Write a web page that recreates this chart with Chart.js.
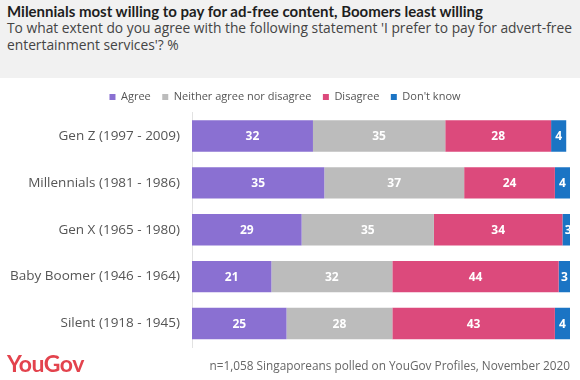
<!DOCTYPE html>
<html>
<head>
<meta charset="utf-8">
<script src="https://cdn.jsdelivr.net/npm/chart.js@4"></script>
<style>
  body { margin: 0; width: 580px; height: 380px; background: #fff; font-family: "Open Sans", sans-serif; overflow: hidden; position: relative; }
  .head { position: absolute; left: 0; top: 0; width: 580px; height: 78px; background: #f1f1f1; }
  .title { position: absolute; left: 7px; top: 2px; font-family: "Lato", sans-serif; font-size: 15px; font-weight: 700; color: #1e1e1e; white-space: nowrap; }
  .sub { position: absolute; left: 7px; top: 20px; font-size: 13.8px; line-height: 16.5px; color: #444; white-space: nowrap; }
  .wrap { position: absolute; left: 0; top: 78px; width: 580px; height: 273px; }
  .logo { position: absolute; left: 7px; top: 349px; font-family: "Lato", sans-serif; font-size: 23px; font-weight: 700; color: #e3434d; letter-spacing: -0.5px; }
  .note { position: absolute; right: 10px; top: 357px; font-size: 11.8px; color: #666; }
</style>
</head>
<body>
<div class="head">
  <div class="title">Milennials most willing to pay for ad-free content, Boomers least willing</div>
  <div class="sub">To what extent do you agree with the following statement 'I prefer to pay for advert-free<br>entertainment services'? %</div>
</div>
<div class="wrap"><canvas id="chart"></canvas></div>
<div class="logo">YouGov</div>
<div class="note">n=1,058 Singaporeans polled on YouGov Profiles, November 2020</div>
<script>
const generations = ["Gen Z (1997 - 2009)", "Millennials (1981 - 1986)", "Gen X (1965 - 1980)", "Baby Boomer (1946 - 1964)", "Silent (1918 - 1945)"];
const agree = [32, 35, 29, 21, 25];
const neither = [35, 37, 35, 32, 28];
const disagree = [28, 24, 34, 44, 43];
const dontKnow = [4, 4, 3, 3, 4];

// white value labels in the middle of each segment
const segmentLabels = {
    id: "segmentLabels",
    afterDatasetsDraw(chart) {
        const ctx = chart.ctx;
        ctx.save();
        ctx.font = "bold 12px 'Open Sans', sans-serif";
        ctx.fillStyle = "#fff";
        ctx.textAlign = "center";
        ctx.textBaseline = "middle";
        chart.data.datasets.forEach((ds, i) => {
            chart.getDatasetMeta(i).data.forEach((bar, j) => {
                const x = (bar.x + bar.base) / 2;
                ctx.fillText(ds.data[j], x, bar.y + 1);
            });
        });
        ctx.restore();
    }
};

new Chart(document.getElementById("chart"), {
    type: "bar",
    data: {
        labels: generations,
        datasets: [
            { label: "Agree", data: agree, backgroundColor: "#8a70d2" },
            { label: "Neither agree nor disagree", data: neither, backgroundColor: "#bcbcbc" },
            { label: "Disagree", data: disagree, backgroundColor: "#dc4a7c" },
            { label: "Don't know", data: dontKnow, backgroundColor: "#1b74c4" }
        ]
    },
    options: {
        indexAxis: "y",
        responsive: true,
        maintainAspectRatio: false,
        animation: false,
        barPercentage: 0.67,
        categoryPercentage: 1,
        layout: { padding: { left: 0, right: 10, top: 2, bottom: 4 } },
        plugins: {
            legend: {
                position: "top",
                labels: {
                    boxWidth: 6,
                    boxHeight: 6,
                    padding: 11.5,
                    color: "#555",
                    font: { size: 11, family: "'Open Sans', sans-serif" }
                }
            },
            tooltip: { enabled: false }
        },
        scales: {
            x: {
                stacked: true,
                min: 0,
                max: 100,
                display: false
            },
            y: {
                stacked: true,
                grid: { display: false, drawTicks: false },
                border: { display: true, color: "#e2e2e2" },
                ticks: {
                    padding: 12,
                    color: "#555",
                    font: { size: 13.5, family: "'Open Sans', sans-serif" }
                },
                afterFit(scale) {
                    scale.width = 192;
                    scale.paddingTop = 0;
                    scale.paddingBottom = 0;
                }
            }
        }
    },
    plugins: [segmentLabels]
});
</script>
</body>
</html>
